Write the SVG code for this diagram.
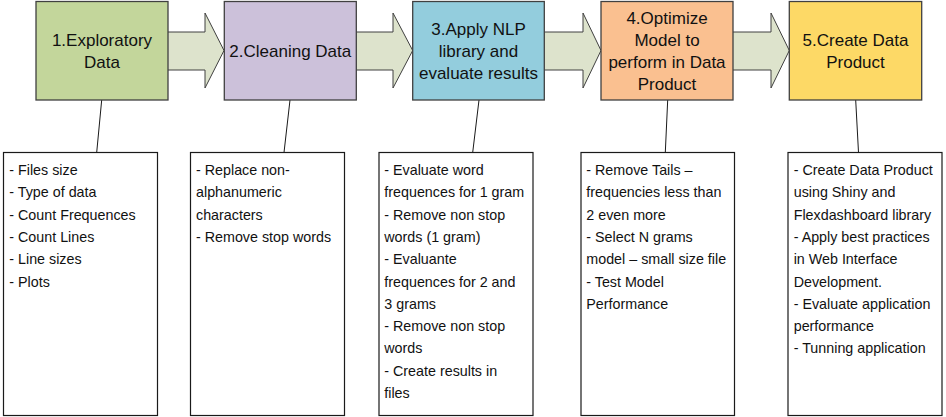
<svg xmlns="http://www.w3.org/2000/svg" width="946" height="417" viewBox="0 0 946 417">
<style>
.step{stroke:#404040;stroke-width:1.3}
.t{font-family:"Liberation Sans",Arial,sans-serif;font-size:17px;fill:#111;text-anchor:middle}
.note{fill:#fff;stroke:#1a1a1a;stroke-width:1.2}
.n{font-family:"Liberation Sans",Arial,sans-serif;font-size:14.3px;fill:#111}
.arrow{fill:#dde3cc;stroke:#404040;stroke-width:1}
.link{stroke:#1a1a1a;stroke-width:1;fill:none}
</style>
<rect width="946" height="417" fill="#fff"/>
<g id="connectors">
<polygon class="arrow" points="166,32 205,32 205,13 224,50.5 205,88 205,70 166,70"/>
<polygon class="arrow" points="354,32 393,32 393,13 412.7,50.5 393,88 393,70 354,70"/>
<polygon class="arrow" points="542,32 583,32 583,13 601,50.5 583,88 583,70 542,70"/>
<polygon class="arrow" points="731,32 771,32 771,13 789.3,50.5 771,88 771,70 731,70"/>
<line class="link" x1="101.7" y1="100" x2="96.7" y2="152.5"/>
<line class="link" x1="290" y1="100" x2="284" y2="152.5"/>
<line class="link" x1="479" y1="100" x2="472.7" y2="152.5"/>
<line class="link" x1="667.7" y1="100" x2="665.3" y2="152.5"/>
<line class="link" x1="855.7" y1="100" x2="858.5" y2="152.5"/>
</g>
<g id="step1">
<rect class="step" x="36" y="1.5" width="132" height="98.5" fill="#c3d69b"/>
<text class="t" x="102" y="45.7">1.Exploratory</text>
<text class="t" x="102" y="68.2">Data</text>
</g>
<g id="step2">
<rect class="step" x="224.3" y="1.5" width="132" height="98.5" fill="#ccc1da"/>
<text class="t" x="290.3" y="56.7">2.Cleaning Data</text>
</g>
<g id="step3">
<rect class="step" x="412.7" y="1.5" width="131.6" height="98.5" fill="#93cddd"/>
<text class="t" x="478.5" y="34.5">3.Apply NLP</text>
<text class="t" x="478.5" y="56.5">library and</text>
<text class="t" x="478.5" y="78.5">evaluate results</text>
</g>
<g id="step4">
<rect class="step" x="601" y="1.5" width="132" height="98.5" fill="#fac090"/>
<text class="t" x="667" y="23.5">4.Optimize</text>
<text class="t" x="667" y="45.5">Model to</text>
<text class="t" x="667" y="67.5">perform in Data</text>
<text class="t" x="667" y="89.5">Product</text>
</g>
<g id="step5">
<rect class="step" x="789.3" y="1.5" width="132.4" height="98.5" fill="#fdd966"/>
<text class="t" x="855.5" y="45.7">5.Create Data</text>
<text class="t" x="855.5" y="68.2">Product</text>
</g>
<g id="note1">
<rect class="note" x="3.5" y="152.5" width="154" height="263"/>
<text class="n" x="9.3" y="175">- Files size</text>
<text class="n" x="9.3" y="197.3">- Type of data</text>
<text class="n" x="9.3" y="219.6">- Count Frequences</text>
<text class="n" x="9.3" y="241.9">- Count Lines</text>
<text class="n" x="9.3" y="264.2">- Line sizes</text>
<text class="n" x="9.3" y="286.5">- Plots</text>
</g>
<g id="note2">
<rect class="note" x="190.5" y="152.5" width="154" height="263"/>
<text class="n" x="196" y="175">- Replace non-</text>
<text class="n" x="196" y="197.3">alphanumeric</text>
<text class="n" x="196" y="219.6">characters</text>
<text class="n" x="196" y="241.9">- Remove stop words</text>
</g>
<g id="note3">
<rect class="note" x="379" y="152.5" width="154" height="263"/>
<text class="n" x="384.3" y="175">- Evaluate word</text>
<text class="n" x="384.3" y="197.3">frequences for 1 gram</text>
<text class="n" x="384.3" y="219.6">- Remove non stop</text>
<text class="n" x="384.3" y="241.9">words (1 gram)</text>
<text class="n" x="384.3" y="264.2">- Evaluante</text>
<text class="n" x="384.3" y="286.5">frequences for 2 and</text>
<text class="n" x="384.3" y="308.8">3 grams</text>
<text class="n" x="384.3" y="331.1">- Remove non stop</text>
<text class="n" x="384.3" y="353.4">words</text>
<text class="n" x="384.3" y="375.7">- Create results in</text>
<text class="n" x="384.3" y="398">files</text>
</g>
<g id="note4">
<rect class="note" x="581" y="152.5" width="153.5" height="263"/>
<text class="n" x="586.3" y="175">- Remove Tails –</text>
<text class="n" x="586.3" y="197.3">frequencies less than</text>
<text class="n" x="586.3" y="219.6">2 even more</text>
<text class="n" x="586.3" y="241.9">- Select N grams</text>
<text class="n" x="586.3" y="264.2">model – small size file</text>
<text class="n" x="586.3" y="286.5">- Test Model</text>
<text class="n" x="586.3" y="308.8">Performance</text>
</g>
<g id="note5">
<rect class="note" x="788" y="152.5" width="154" height="263"/>
<text class="n" x="793.7" y="175">- Create Data Product</text>
<text class="n" x="793.7" y="197.3">using Shiny and</text>
<text class="n" x="793.7" y="219.6">Flexdashboard library</text>
<text class="n" x="793.7" y="241.9">- Apply best practices</text>
<text class="n" x="793.7" y="264.2">in Web Interface</text>
<text class="n" x="793.7" y="286.5">Development.</text>
<text class="n" x="793.7" y="308.8">- Evaluate application</text>
<text class="n" x="793.7" y="331.1">performance</text>
<text class="n" x="793.7" y="353.4">- Tunning application</text>
</g>
</svg>
